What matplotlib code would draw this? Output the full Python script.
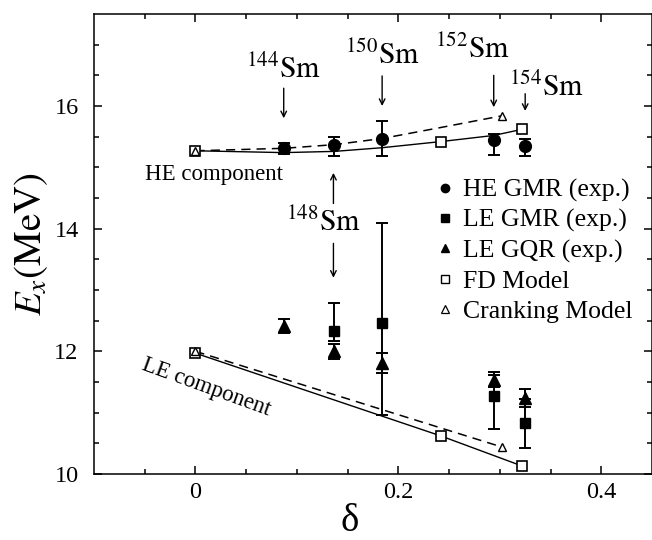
import matplotlib
matplotlib.use("Agg")
import matplotlib.pyplot as plt
from matplotlib.lines import Line2D

plt.rcParams["font.family"] = ["Liberation Serif", "DejaVu Serif"]
plt.rcParams["mathtext.fontset"] = "stix"

# experiment (deformation delta, energy in MeV, lower / upper errors)
he_gmr_d = [0.087, 0.137, 0.184, 0.294, 0.325]
he_gmr_e = [15.31, 15.37, 15.47, 15.44, 15.34]
he_gmr_lo = [0.10, 0.18, 0.28, 0.24, 0.16]
he_gmr_hi = [0.09, 0.13, 0.29, 0.11, 0.12]

le_gmr_d = [0.137, 0.184, 0.294, 0.325]
le_gmr_e = [12.33, 12.46, 11.27, 10.83]
le_gmr_lo = [0.16, 1.50, 0.54, 0.40]
le_gmr_hi = [0.45, 1.64, 0.35, 0.40]

le_gqr_d = [0.087, 0.137, 0.184, 0.294, 0.325]
le_gqr_e = [12.41, 12.00, 11.81, 11.54, 11.24]
le_gqr_err = [0.11, 0.12, 0.17, 0.12, 0.14]

# models
fd_d = [0.0, 0.242, 0.322]
fd_he = [15.27, 15.42, 15.62]
fd_le = [11.97, 10.62, 10.13]
cr_d = [0.0, 0.302]
cr_he = [15.27, 15.84]
cr_le = [12.00, 10.44]
fd_curve_d = [0.0, 0.087, 0.137, 0.184, 0.242, 0.294, 0.322]
fd_curve_he = [15.27, 15.24, 15.26, 15.32, 15.42, 15.52, 15.62]
cr_curve_d = [0.0, 0.087, 0.137, 0.184, 0.242, 0.302]
cr_curve_he = [15.27, 15.31, 15.37, 15.47, 15.65, 15.84]

fig = plt.figure(figsize=(6.52, 5.4), dpi=100)
ax = fig.add_axes([94 / 652, 66 / 540, 558 / 652, 460 / 540])

# model curves
ax.plot(fd_curve_d, fd_curve_he, "-", color="k", lw=1.0, zorder=2)
ax.plot(fd_d, fd_le, "-", color="k", lw=1.0, zorder=2)
ax.plot(cr_curve_d, cr_curve_he, "--", color="k", lw=1.1, dashes=(6, 4), zorder=2)
ax.plot(cr_d, cr_le, "--", color="k", lw=1.1, dashes=(6, 4), zorder=2)
ax.plot(fd_d, fd_he, "s", ms=7, mfc="white", mec="k", mew=1.2, zorder=4)
ax.plot(fd_d, fd_le, "s", ms=7, mfc="white", mec="k", mew=1.2, zorder=4)
ax.plot(cr_d, cr_he, "^", ms=6, mfc="white", mec="k", mew=1.0, zorder=5)
ax.plot(cr_d, cr_le, "^", ms=6, mfc="white", mec="k", mew=1.0, zorder=5)

# experimental points
eb = dict(color="k", ls="none", capsize=4, elinewidth=1.4, capthick=1.4, zorder=3)
ax.errorbar(he_gmr_d, he_gmr_e, yerr=[he_gmr_lo, he_gmr_hi], fmt="o", ms=8.5, **eb)
ax.errorbar(le_gmr_d, le_gmr_e, yerr=[le_gmr_lo, le_gmr_hi], fmt="s", ms=7.5, **eb)
ax.errorbar(le_gqr_d, le_gqr_e, yerr=le_gqr_err, fmt="^", ms=8, **eb)

# isotope labels + arrows
arr = dict(arrowstyle="->", lw=1.0, color="k", shrinkA=0, shrinkB=0)
for lab, tx, ty in [("144", 0.087, 16.46), ("150", 0.184, 16.68), ("152", 0.273, 16.78),
                    ("154", 0.346, 16.16), ("148", 0.126, 13.97)]:
    ax.text(tx, ty, r"$^{%s}\mathrm{Sm}$" % lab, fontsize=21.5, ha="center", va="baseline")
for x0, y0, y1 in [(0.087, 16.29, 15.80), (0.184, 16.49, 16.00), (0.294, 16.50, 15.98),
                   (0.325, 16.20, 15.92), (0.136, 14.41, 14.91), (0.136, 13.76, 13.20)]:
    ax.annotate("", xy=(x0, y1), xytext=(x0, y0), arrowprops=arr)

ax.text(-0.050, 14.89, "HE component", fontsize=16.5, ha="left", va="center")
ax.text(0.011, 11.41, "LE component", fontsize=16.5, ha="center", va="center",
        rotation=-20, rotation_mode="anchor")

handles = [
    Line2D([], [], ls="none", marker="o", ms=6, color="k"),
    Line2D([], [], ls="none", marker="s", ms=5.5, color="k"),
    Line2D([], [], ls="none", marker="^", ms=6, color="k"),
    Line2D([], [], ls="none", marker="s", ms=5.5, mfc="white", mec="k", mew=1.0),
    Line2D([], [], ls="none", marker="^", ms=5.5, mfc="white", mec="k", mew=0.9),
]
labels = ["HE GMR (exp.)", "LE GMR (exp.)", "LE GQR (exp.)", "FD Model", "Cranking Model"]
ax.legend(handles, labels, loc="upper left", bbox_to_anchor=(0.611, 0.642), frameon=False,
          fontsize=18.5, handlelength=0.8, handletextpad=0.3, labelspacing=0.27,
          borderaxespad=0, borderpad=0)

ax.set_xlim(-0.1, 0.45)
ax.set_ylim(10, 17.5)
ax.set_xticks([0, 0.2, 0.4])
ax.set_xticklabels(["0", "0.2", "0.4"])
ax.set_xticks([-0.05, 0.05, 0.1, 0.15, 0.25, 0.3, 0.35], minor=True)
ax.set_yticks([10, 12, 14, 16])
ax.set_yticks([10.5, 11, 11.5, 12.5, 13, 13.5, 14.5, 15, 15.5, 16.5, 17], minor=True)
ax.tick_params(which="both", direction="in", top=True, right=True, width=1.1, labelsize=17.5)
ax.tick_params(which="major", length=6, pad=6)
ax.tick_params(axis="y", which="major", pad=11)
ax.tick_params(which="minor", length=3.5)
for s in ax.spines.values():
    s.set_linewidth(1.1)

ax.set_ylabel(r"$E_x\mathrm{(MeV)}$", fontsize=28)
ax.yaxis.set_label_coords(-0.079, 0.5)
ax.set_xlabel("δ", fontsize=28)
ax.xaxis.label.set_va("baseline")
ax.xaxis.set_label_coords((350 - 94) / 558, -(531 - 474) / 460)

fig.savefig("out.png", dpi=100)
